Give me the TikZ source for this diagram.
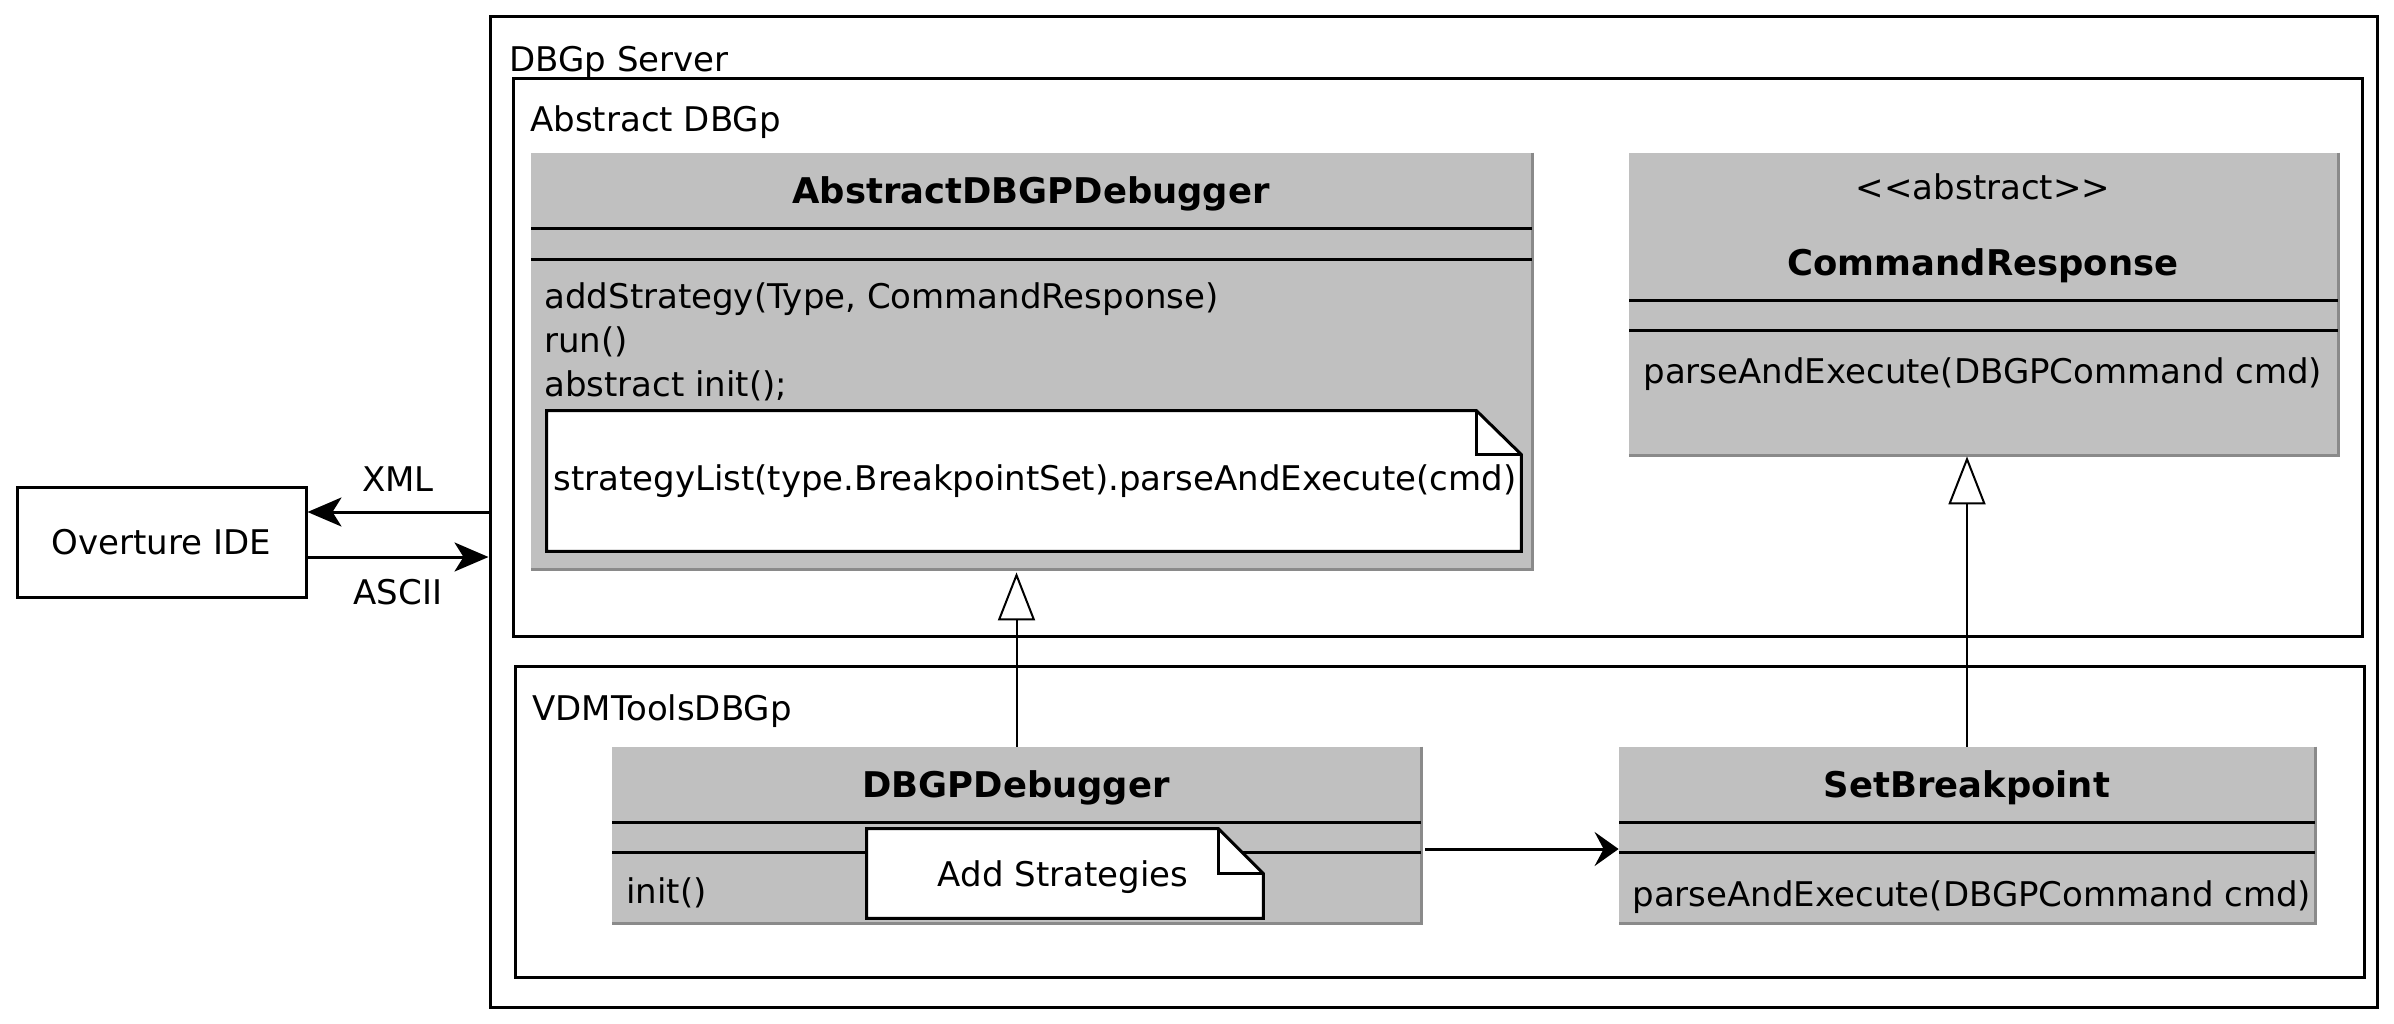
\documentclass[tikz,border=0pt]{standalone}
\usepackage{fontspec}
\setmainfont{DejaVu Sans}
\usetikzlibrary{arrows.meta,fit}
\definecolor{clsfill}{HTML}{C0C0C0}
\definecolor{clsshadow}{HTML}{8A8A8A}
\begin{document}
\begin{tikzpicture}[x=0.5pt,y=-0.5pt,
  container/.style={draw=black,line width=1.5pt,inner sep=0pt},
  cls/.style={fill=clsfill,inner sep=0pt},
  shadowln/.style={draw=clsshadow,line width=1.5pt},
  divider/.style={draw=black,line width=1.5pt},
  notebody/.style={inner sep=0pt},
  noteline/.style={draw=black,line width=1.5pt,fill=white,line join=miter},
  foldline/.style={draw=black,line width=1.5pt,line join=miter},
  lbl/.style={inner sep=0pt,font=\fontsize{17pt}{20pt}\selectfont},
  ttl/.style={inner sep=0pt,font=\fontsize{17.7pt}{21pt}\selectfont\bfseries},
  flow/.style={draw=black,line width=1.5pt,-{Stealth[length=17pt,width=14.5pt,inset=4.5pt]}},
  assoc/.style={draw=black,line width=1.5pt,-{Stealth[length=12pt,width=17pt,inset=4.5pt]}},
  gen/.style={draw=black,line width=1pt,-{Triangle[open,length=24pt,width=18.5pt,fill=white]}},
]
\useasboundingbox (0,0) rectangle (2394,1023);

% containers
\node[container, fit={(490,16) (2377,1007)}] (server) {};
\node[container, fit={(513,78) (2362,636)}] (abspkg) {};
\node[container, fit={(515,666) (2364,977)}] (vdmpkg) {};
\node[container, fit={(17,487) (306,597)}] (ide) {};
\node[lbl] (idelbl) at (ide.center) {Overture IDE};

\node[lbl,anchor=base west] (tserver) at (509,71) {DBGp Server};
\node[lbl,anchor=base west] (tabs) at (530,131) {Abstract DBGp};
\node[lbl,anchor=base west] (tvdm) at (532,720) {VDMToolsDBGp};

% AbstractDBGPDebugger
\node[cls, fit={(531,153) (1532,569)}] (absdbg) {};
\draw[shadowln] (absdbg.north east) -- (absdbg.south east) -- (absdbg.south west);
\draw[divider] (531,228) -- (1532,228);
\draw[divider] (531,259) -- (1532,259);
\node[ttl,anchor=base] (absdbgname) at (1031,203) {AbstractDBGPDebugger};
\node[lbl,anchor=base west] (absm1) at (544,308) {addStrategy(Type, CommandResponse)};
\node[lbl,anchor=base west] (absm2) at (544,352) {run()};
\node[lbl,anchor=base west] (absm3) at (544,396) {abstract init();};

\node[notebody, fit={(547,411) (1521,551)}] (note1) {};
\draw[noteline] (note1.north west) -- ([xshift=-22.5pt]note1.north east) -- ([yshift=-22pt]note1.north east) -- (note1.south east) -- (note1.south west) -- cycle;
\draw[foldline] ([xshift=-22.5pt]note1.north east) -- ([xshift=-22.5pt,yshift=-22pt]note1.north east) -- ([yshift=-22pt]note1.north east);
\node[lbl,anchor=base west] (note1txt) at (553,490) {strategyList(type.BreakpointSet).parseAndExecute(cmd)};

% CommandResponse
\node[cls, fit={(1629,153) (2338,455)}] (cmdresp) {};
\draw[shadowln] (cmdresp.north east) -- (cmdresp.south east) -- (cmdresp.south west);
\draw[divider] (1629,300) -- (2338,300);
\draw[divider] (1629,330) -- (2338,330);
\node[lbl,anchor=base] (stereo) at (1983,199) {<\kern0pt<abstract>\kern0pt>};
\node[ttl,anchor=base] (cmdrespname) at (1983,275) {CommandResponse};
\node[lbl,anchor=base west] (cmdm) at (1643,383) {parseAndExecute(DBGPCommand cmd)};

% DBGPDebugger
\node[cls, fit={(612,747) (1421,923)}] (dbgp) {};
\draw[shadowln] (dbgp.north east) -- (dbgp.south east) -- (dbgp.south west);
\draw[divider] (612,822) -- (1421,822);
\draw[divider] (612,852) -- (1421,852);
\node[ttl,anchor=base] (dbgpname) at (1016,797) {DBGPDebugger};
\node[lbl,anchor=base west] (dbgpm) at (626,903) {init()};

\node[notebody, fit={(867,829) (1263,918)}] (note2) {};
\draw[noteline] (note2.north west) -- ([xshift=-22.5pt]note2.north east) -- ([yshift=-22.5pt]note2.north east) -- (note2.south east) -- (note2.south west) -- cycle;
\draw[foldline] ([xshift=-22.5pt]note2.north east) -- ([xshift=-22.5pt,yshift=-22.5pt]note2.north east) -- ([yshift=-22.5pt]note2.north east);
\node[lbl,anchor=base] (note2txt) at (1063,886) {Add Strategies};

% SetBreakpoint
\node[cls, fit={(1619,747) (2315,923)}] (setbp) {};
\draw[shadowln] (setbp.north east) -- (setbp.south east) -- (setbp.south west);
\draw[divider] (1619,822) -- (2315,822);
\draw[divider] (1619,852) -- (2315,852);
\node[ttl,anchor=base] (setbpname) at (1967,797) {SetBreakpoint};
\node[lbl,anchor=base west] (setbpm) at (1632,906) {parseAndExecute(DBGPCommand cmd)};

% connectors
\coordinate (xmly) at (0,512);
\coordinate (asciiy) at (0,557);
\draw[flow] (server.west |- xmly) -- (ide.east |- xmly);
\draw[flow] (ide.east |- asciiy) -- (server.west |- asciiy);
\node[lbl,anchor=base] (xml) at (398,491) {XML};
\node[lbl,anchor=base] (ascii) at (398,604) {ASCII};

\coordinate (g1tip) at ([yshift=-1.5pt]absdbg.south);
\coordinate (g2tip) at ([yshift=-0.5pt]cmdresp.south);
\draw[gen] (dbgp.north) -- (dbgp.north |- g1tip);
\draw[gen] (setbp.north) -- (setbp.north |- g2tip);

\coordinate (a1) at (1425,849);
\draw[assoc] (a1) -- (a1 -| setbp.west);
\end{tikzpicture}
\end{document}
